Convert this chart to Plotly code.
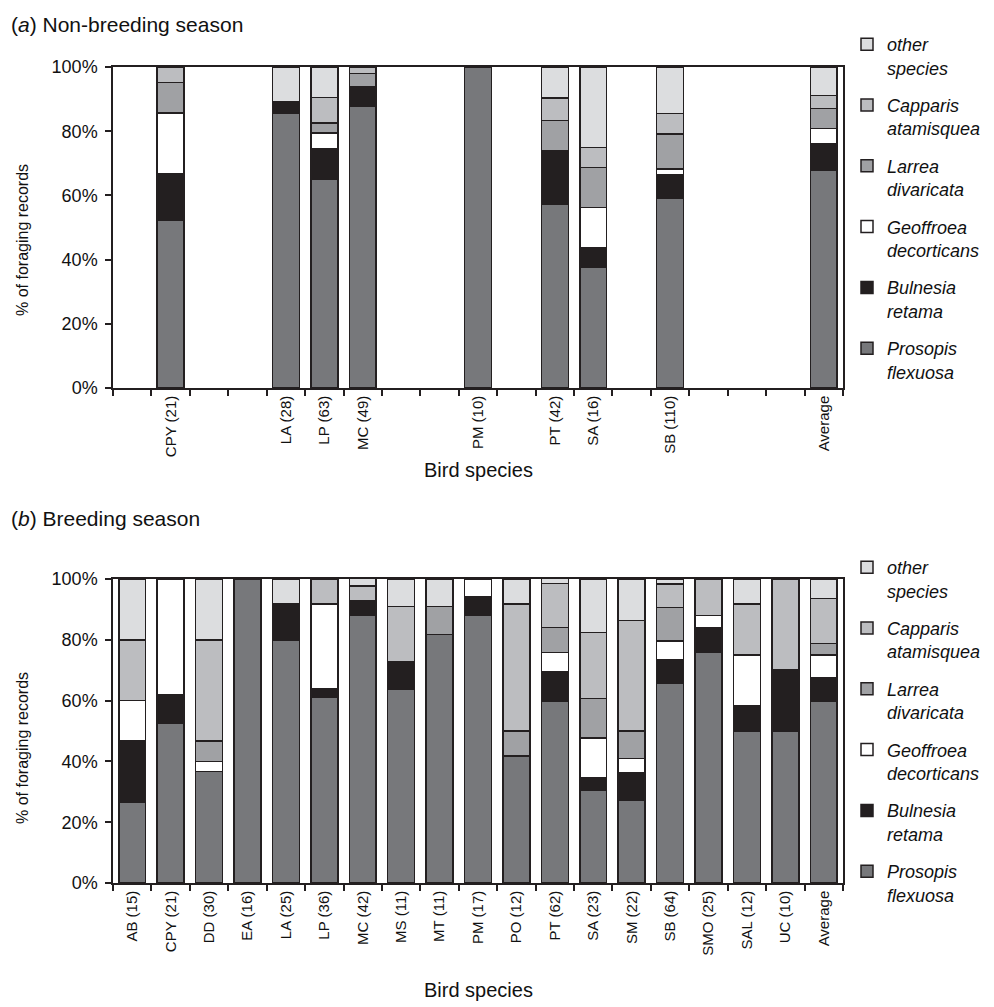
import plotly.graph_objects as go

# Bird species codes, in axis order (shared by both panels)
species_order = ["AB", "CPY", "DD", "EA", "LA", "LP", "MC", "MS", "MT", "PM",
                 "PO", "PT", "SA", "SM", "SB", "SMO", "SAL", "UC", "Average"]

plant_names = ["Prosopis flexuosa", "Bulnesia retama", "Geoffroea decorticans",
               "Larrea divaricata", "Capparis atamisquea", "other species"]
legend_labels = ["Prosopis<br>flexuosa", "Bulnesia<br>retama", "Geoffroea<br>decorticans",
                 "Larrea<br>divaricata", "Capparis<br>atamisquea", "other<br>species"]
plant_colors = ["#77787b", "#231f20", "#ffffff", "#a0a1a4", "#bcbdc0", "#dcdddf"]

# (a) Non-breeding season: species sampled and number of foraging records
nb_species = ["CPY", "LA", "LP", "MC", "PM", "PT", "SA", "SB", "Average"]
nb_records = [21, 28, 63, 49, 10, 42, 16, 110, None]
nb_prosopis = [52.4, 85.7, 65.1, 87.8, 100.0, 57.1, 37.5, 59.1, 67.7]
nb_bulnesia = [14.3, 3.6, 9.5, 6.1, 0.0, 16.7, 6.25, 7.3, 8.5]
nb_geoffroea = [19.0, 0.0, 4.8, 0.0, 0.0, 0.0, 12.5, 1.8, 4.7]
nb_larrea = [9.5, 0.0, 3.2, 4.1, 0.0, 9.5, 12.5, 10.9, 6.2]
nb_capparis = [4.8, 0.0, 7.9, 2.0, 0.0, 7.1, 6.25, 6.4, 4.0]
nb_other = [0.0, 10.7, 9.5, 0.0, 0.0, 9.5, 25.0, 14.5, 8.9]

# (b) Breeding season
br_species = species_order
br_records = [15, 21, 30, 16, 25, 36, 42, 11, 11, 17, 12, 62, 23, 22, 64, 25, 12, 10, None]
br_prosopis = [26.7, 52.4, 36.7, 100.0, 80.0, 61.1, 88.1, 63.6, 81.8, 88.2,
               41.7, 59.7, 30.4, 27.3, 65.6, 76.0, 50.0, 50.0, 59.9]
br_bulnesia = [20.0, 9.5, 0.0, 0.0, 12.0, 2.8, 4.8, 9.1, 0.0, 5.9,
               0.0, 9.7, 4.3, 9.1, 7.8, 8.0, 8.3, 20.0, 7.6]
br_geoffroea = [13.3, 38.1, 3.3, 0.0, 0.0, 27.8, 0.0, 0.0, 0.0, 5.9,
                0.0, 6.5, 13.0, 4.5, 6.25, 4.0, 16.7, 0.0, 7.5]
br_larrea = [0.0, 0.0, 6.7, 0.0, 0.0, 0.0, 0.0, 0.0, 9.1, 0.0,
             8.3, 8.1, 13.0, 9.1, 10.9, 0.0, 0.0, 0.0, 3.8]
br_capparis = [20.0, 0.0, 33.3, 0.0, 0.0, 8.3, 4.8, 18.2, 0.0, 0.0,
               41.7, 14.5, 21.7, 36.4, 7.8, 12.0, 16.7, 30.0, 14.8]
br_other = [20.0, 0.0, 20.0, 0.0, 8.0, 0.0, 2.4, 9.1, 9.1, 0.0,
            8.3, 1.6, 17.4, 13.6, 1.6, 0.0, 8.3, 0.0, 6.4]

yticks = [0, 20, 40, 60, 80, 100]
ytick_labels = ["0%", "20%", "40%", "60%", "80%", "100%"]

FONT = "Liberation Sans, Arial, sans-serif"
INK = "#231f20"
TEXT = "#111111"


def tick_text(codes, counts):
    lookup = {c: (f"{c} ({n})" if n is not None else c) for c, n in zip(codes, counts)}
    return [lookup.get(c, "") for c in species_order]


fig = go.Figure()

nb_series = [nb_prosopis, nb_bulnesia, nb_geoffroea, nb_larrea, nb_capparis, nb_other]
br_series = [br_prosopis, br_bulnesia, br_geoffroea, br_larrea, br_capparis, br_other]
n_plants = len(plant_names)

# Stack bottom-up (Prosopis first); legend lists them top-down via legendrank
for i, (vals, col) in enumerate(zip(nb_series, plant_colors)):
    fig.add_trace(go.Bar(
        x=nb_species, y=vals, name=legend_labels[i], marker_color=col,
        marker_line=dict(color=INK, width=1.5), xaxis="x", yaxis="y",
        legend="legend", legendgroup=f"a{i}", legendrank=n_plants - i,
        hovertext=[plant_names[i]] * len(vals)))

for i, (vals, col) in enumerate(zip(br_series, plant_colors)):
    fig.add_trace(go.Bar(
        x=br_species, y=vals, name=legend_labels[i], marker_color=col,
        marker_line=dict(color=INK, width=1.5), xaxis="x2", yaxis="y2",
        legend="legend2", legendgroup=f"b{i}", legendrank=n_plants - i,
        hovertext=[plant_names[i]] * len(vals)))

# Plot-area geometry (pixels) for the 994x1007 page
W, H = 994, 1007
L, R, T, B = 113, 843, 67, 883
ph = B - T


def py(px):
    return (B - px) / ph


def pxx(px):
    return (px - L) / (R - L)


axis_common = dict(showline=True, linecolor=INK, linewidth=1.5, mirror=True,
                   showgrid=False, zeroline=False, ticks="outside", tickcolor=INK,
                   ticklen=6, tickwidth=1.5)

xcommon = dict(axis_common, type="category", categoryorder="array",
               categoryarray=species_order, range=[-0.5, len(species_order) - 0.5],
               tickson="boundaries", tickmode="array", tickvals=species_order,
               tickangle=-90, tickfont=dict(family=FONT, size=15, color=TEXT))
ycommon = dict(axis_common, range=[0, 100], tickmode="array", tickvals=yticks,
               ticktext=ytick_labels, ticklabelstandoff=4,
               tickfont=dict(family=FONT, size=18, color=TEXT))

legend_common = dict(font=dict(family=FONT, size=18, color=TEXT, style="italic"),
                     traceorder="grouped", tracegroupgap=11, valign="top",
                     bgcolor="rgba(0,0,0,0)", xanchor="left", yanchor="top",
                     itemwidth=30)

fig.update_layout(
    width=W, height=H,
    margin=dict(l=L, r=W - R, t=T, b=H - B, autoexpand=False),
    paper_bgcolor="white", plot_bgcolor="white",
    barmode="stack", bargap=0.3,
    font=dict(family=FONT, color=TEXT),
    xaxis=dict(xcommon, anchor="y", ticktext=tick_text(nb_species, nb_records)),
    yaxis=dict(ycommon, anchor="x", domain=[py(388), 1.0]),
    xaxis2=dict(xcommon, anchor="y2", ticktext=tick_text(br_species, br_records)),
    yaxis2=dict(ycommon, anchor="x2", domain=[0.0, py(579)]),
    legend=dict(legend_common, x=pxx(847), y=py(26)),
    legend2=dict(legend_common, x=pxx(847), y=py(549)),
    showlegend=True,
)

title_font = dict(family=FONT, size=21, color=TEXT)
axis_title_font = dict(family=FONT, size=20, color=TEXT)
ytitle_font = dict(family=FONT, size=16, color=TEXT)

annotations = [
    dict(text="(<i>a</i>) Non-breeding season", x=pxx(9), y=py(11),
         xanchor="left", yanchor="top", font=title_font),
    dict(text="(<i>b</i>) Breeding season", x=pxx(9), y=py(505),
         xanchor="left", yanchor="top", font=title_font),
    dict(text="Bird species", x=0.5, y=py(470), xanchor="center", yanchor="middle",
         font=axis_title_font),
    dict(text="Bird species", x=0.5, y=py(990), xanchor="center", yanchor="middle",
         font=axis_title_font),
    dict(text="% of foraging records", x=pxx(22), y=py(240), textangle=-90,
         xanchor="center", yanchor="middle", font=ytitle_font),
    dict(text="% of foraging records", x=pxx(22), y=py(748), textangle=-90,
         xanchor="center", yanchor="middle", font=ytitle_font),
]
for a in annotations:
    a.update(xref="paper", yref="paper", showarrow=False)
fig.update_layout(annotations=annotations)

fig.write_html("out.html")
